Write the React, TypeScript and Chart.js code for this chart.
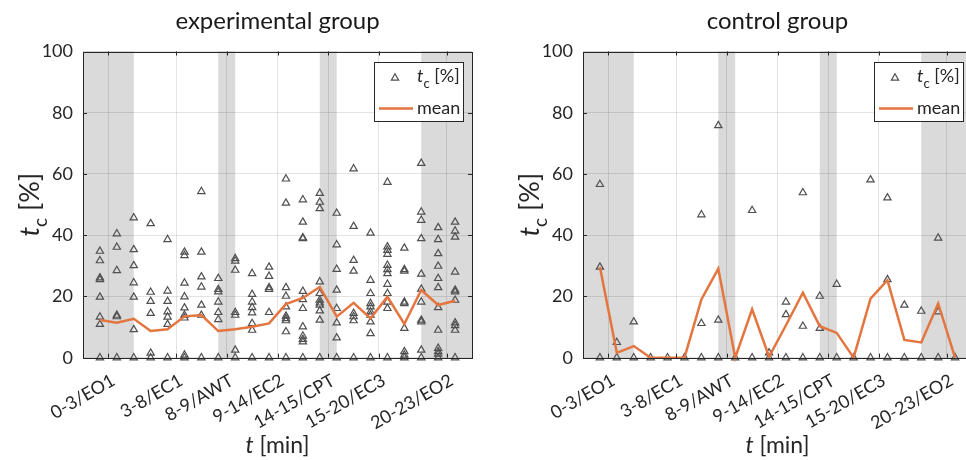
import React, { useEffect, useRef } from "react";
import { Chart, registerables } from "chart.js";

Chart.register(...registerables);

// ---------- data ----------
const minutes = [1, 2, 3, 4, 5, 6, 7, 8, 9, 10, 11, 12, 13, 14, 15, 16, 17, 18, 19, 20, 21, 22];
const phaseTicks = [1.5, 5.5, 8.5, 11.5, 14.5, 17.5, 21.5];
const phaseLabels = ["0-3/EO1", "3-8/EC1", "8-9/AWT", "9-14/EC2", "14-15/CPT", "15-20/EC3", "20-23/EO2"];
const shadedPhases = [
  [0, 3],
  [8, 9],
  [14, 15],
  [20, 23],
];
const yTicks = [0, 20, 40, 60, 80, 100];

const expValues = [
  [34.8, 31.7, 26.1, 25.5, 19.8, 13.3, 10.9, 0],
  [40.5, 36.1, 28.5, 13.9, 13.4, 0],
  [45.7, 35.3, 30.1, 24.5, 19.8, 9.2, 0],
  [43.8, 21.4, 18.4, 14.5, 1.5, 0],
  [38.6, 21.8, 18.4, 15.0, 13.3, 10.9, 0],
  [34.5, 33.4, 24.4, 19.9, 16.3, 13.9, 13.0, 0.9, 0],
  [54.3, 34.5, 26.4, 23.1, 17.2, 13.9, 0],
  [25.9, 22.3, 21.5, 18.2, 14.8, 12.5, 0],
  [32.4, 31.6, 28.6, 14.8, 13.9, 2.5, 0],
  [27.5, 20.7, 18.2, 16.4, 14.7, 11.2, 9.0, 0],
  [29.6, 26.6, 22.9, 22.3, 14.8, 0],
  [58.4, 50.5, 22.9, 20.1, 16.6, 13.6, 12.8, 12.1, 8.5, 0],
  [51.6, 44.3, 39.2, 38.9, 21.7, 19.0, 16.1, 10.1, 7.1, 6.0, 5.2, 0],
  [53.7, 50.8, 48.7, 24.8, 21.0, 18.8, 17.9, 17.2, 15.3, 12.3, 0],
  [47.2, 36.9, 28.9, 22.1, 16.1, 11.4, 6.5, 0],
  [61.7, 42.9, 31.8, 28.3, 14.5, 13.4, 12.1, 0],
  [40.7, 25.3, 21.0, 17.7, 16.6, 15.0, 13.9, 11.7, 7.9, 0],
  [57.3, 36.2, 35.1, 33.8, 30.2, 28.8, 27.5, 24.0, 21.0, 18.2, 16.1, 0],
  [35.8, 28.8, 28.3, 18.2, 17.7, 9.6, 2.0, 0.9, 0],
  [63.5, 47.6, 44.9, 38.9, 27.3, 22.4, 18.2, 12.3, 11.7, 2.5, 0],
  [42.5, 38.6, 34.0, 29.9, 25.9, 22.9, 16.4, 9.0, 3.1, 2.0, 1.2, 0],
  [44.3, 41.4, 39.4, 28.0, 22.1, 21.5, 18.8, 11.4, 10.5, 9.0, 0],
];
const expMean = [12.3, 11.4, 12.7, 8.7, 9.3, 13.5, 13.9, 8.7, 9.3, 10.1, 11.2, 17.5, 19.5, 23.1, 13.4, 17.9, 12.8, 19.9, 11.0, 22.1, 17.2, 18.6];

const ctrlValues = [
  [56.6, 29.6, 0],
  [5.0, 0],
  [11.7, 0],
  [0],
  [0],
  [0],
  [46.7, 11.2, 0],
  [75.8, 12.3, 0],
  [0],
  [48.1, 0],
  [1.6, 0],
  [18.2, 14.1, 0],
  [53.9, 10.3, 0],
  [20.1, 9.6, 0],
  [24.0, 0],
  [0],
  [58.1, 0],
  [52.2, 25.5, 0],
  [17.2, 0],
  [15.2, 0],
  [39.1, 15.0, 0],
  [0],
];
const ctrlMean = [29.6, 1.6, 3.8, 0, 0, 0, 19.0, 29.1, 0, 15.8, 0.3, 10.6, 21.2, 10.3, 8.1, 0, 19.3, 25.3, 5.8, 5.0, 17.7, 0];

// ---------- styles ----------
const FONT = 'Lato, "Noto Sans", sans-serif';
const TEXT = "#262626";
const ORANGE = "#E4753F";
const MARKER = "#505050";
const BAND = "#dadada";
const GRID = "rgba(38,38,38,0.13)";

type Part = { t: string; size: number; italic?: boolean; dy?: number };

function drawRich(ctx: CanvasRenderingContext2D, parts: Part[], x: number, y: number, align: "center" | "left") {
  const fnt = (p: Part) => `${p.italic ? "italic " : ""}${p.size}px ${FONT}`;
  ctx.textAlign = "left";
  ctx.textBaseline = "alphabetic";
  const widths = parts.map((p) => {
    ctx.font = fnt(p);
    return ctx.measureText(p.t).width;
  });
  const total = widths.reduce((a, b) => a + b, 0);
  let cx = align === "center" ? x - total / 2 : x;
  parts.forEach((p, i) => {
    ctx.font = fnt(p);
    ctx.fillText(p.t, cx, y + (p.dy || 0));
    cx += widths[i];
  });
}

function drawTriangle(ctx: CanvasRenderingContext2D, x: number, y: number, r: number) {
  ctx.beginPath();
  let rad = 0;
  ctx.moveTo(x + Math.sin(rad) * r, y - Math.cos(rad) * r);
  rad += (2 * Math.PI) / 3;
  ctx.lineTo(x + Math.sin(rad) * r, y - Math.cos(rad) * r);
  rad += (2 * Math.PI) / 3;
  ctx.lineTo(x + Math.sin(rad) * r, y - Math.cos(rad) * r);
  ctx.closePath();
  ctx.stroke();
}

function makeDecor(title: string) {
  return {
    id: "decor",
    beforeDraw(chart: any) {
      const { ctx, chartArea } = chart;
      const xs = chart.scales.x;
      ctx.save();
      ctx.fillStyle = "#ffffff";
      ctx.fillRect(0, 0, chart.width, chart.height);
      ctx.fillStyle = BAND;
      shadedPhases.forEach(([a, b]) => {
        const x1 = xs.getPixelForValue(a);
        const x2 = xs.getPixelForValue(b);
        ctx.fillRect(x1, chartArea.top, x2 - x1, chartArea.bottom - chartArea.top);
      });
      ctx.restore();
    },
    afterDraw(chart: any) {
      const { ctx, chartArea } = chart;
      const { left, right, top, bottom } = chartArea;
      const xs = chart.scales.x;
      const ys = chart.scales.y;
      ctx.save();
      // frame
      ctx.strokeStyle = TEXT;
      ctx.lineWidth = 1;
      ctx.strokeRect(Math.round(left) + 0.5, Math.round(top) + 0.5, Math.round(right - left), Math.round(bottom - top));
      // inward ticks
      ctx.beginPath();
      phaseTicks.forEach((v) => {
        const px = Math.round(xs.getPixelForValue(v)) + 0.5;
        ctx.moveTo(px, bottom);
        ctx.lineTo(px, bottom - 4);
        ctx.moveTo(px, top);
        ctx.lineTo(px, top + 4);
      });
      yTicks.forEach((v) => {
        const py = Math.round(ys.getPixelForValue(v)) + 0.5;
        ctx.moveTo(left, py);
        ctx.lineTo(left + 4, py);
        ctx.moveTo(right, py);
        ctx.lineTo(right - 4, py);
      });
      ctx.stroke();

      // legend
      const lx = Math.round(right - 98) + 0.5;
      const ly = Math.round(top + 10) + 0.5;
      ctx.fillStyle = "#ffffff";
      ctx.fillRect(lx, ly, 89, 59);
      ctx.strokeStyle = TEXT;
      ctx.strokeRect(lx, ly, 89, 59);
      ctx.strokeStyle = MARKER;
      ctx.lineWidth = 1.2;
      drawTriangle(ctx, right - 77, top + 26.5, 4.2);
      ctx.fillStyle = TEXT;
      drawRich(
        ctx,
        [
          { t: "t", size: 18, italic: true },
          { t: "c", size: 13, dy: 6 },
          { t: " [%]", size: 18 },
        ],
        right - 55,
        top + 30,
        "left"
      );
      ctx.strokeStyle = ORANGE;
      ctx.lineWidth = 2.5;
      ctx.beginPath();
      ctx.moveTo(right - 93, top + 57);
      ctx.lineTo(right - 59, top + 57);
      ctx.stroke();
      drawRich(ctx, [{ t: "mean", size: 18 }], right - 55, top + 62, "left");

      // title
      ctx.fillStyle = "#1a1a1a";
      drawRich(ctx, [{ t: title, size: 24 }], (left + right) / 2, 29, "center");
      // x axis title
      ctx.fillStyle = TEXT;
      drawRich(
        ctx,
        [
          { t: "t", size: 23, italic: true },
          { t: " [min]", size: 23 },
        ],
        (left + right) / 2,
        453,
        "center"
      );
      // y axis title
      ctx.save();
      ctx.translate(39, (top + bottom) / 2);
      ctx.rotate(-Math.PI / 2);
      drawRich(
        ctx,
        [
          { t: "t", size: 27, italic: true },
          { t: "c", size: 19, dy: 8 },
          { t: " [%]", size: 27 },
        ],
        0,
        0,
        "center"
      );
      ctx.restore();
      ctx.restore();
    },
  };
}

function Panel({ left, title, values, mean }: { left: number; title: string; values: number[][]; mean: number[] }) {
  const ref = useRef<HTMLCanvasElement | null>(null);
  useEffect(() => {
    if (!ref.current) return;
    const points: { x: number; y: number }[] = [];
    minutes.forEach((m, i) => values[i].forEach((v) => points.push({ x: m, y: v })));
    const meanPts = minutes.map((m, i) => ({ x: m, y: mean[i] }));
    const tickFont = { family: FONT, size: 18 };
    const chart = new Chart(ref.current, {
      type: "scatter",
      data: {
        datasets: [
          {
            type: "line",
            label: "mean",
            data: meanPts,
            borderColor: ORANGE,
            backgroundColor: ORANGE,
            borderWidth: 2.5,
            pointRadius: 0,
            fill: false,
            tension: 0,
            clip: false,
            order: 0,
          } as any,
          {
            type: "scatter",
            label: "tc [%]",
            data: points,
            pointStyle: "triangle",
            pointRadius: 4.2,
            borderColor: MARKER,
            backgroundColor: "rgba(0,0,0,0)",
            borderWidth: 1.2,
            clip: false,
            order: 1,
          } as any,
        ],
      },
      options: {
        responsive: false,
        animation: false,
        devicePixelRatio: 1,
        layout: { padding: { left: 0, right: 11, top: 51.5, bottom: 0 } },
        plugins: {
          legend: { display: false },
          title: { display: false },
          tooltip: { enabled: false },
        },
        scales: {
          x: {
            type: "linear",
            min: 0,
            max: 23,
            afterBuildTicks: (s: any) => {
              s.ticks = phaseTicks.map((v) => ({ value: v }));
            },
            afterFit: (s: any) => {
              s.height = 102.3;
            },
            grid: { color: GRID, drawTicks: false, lineWidth: 1 },
            border: { display: false },
            ticks: {
              autoSkip: false,
              minRotation: 30,
              maxRotation: 30,
              padding: 12,
              labelOffset: 5,
              color: TEXT,
              font: tickFont,
              callback: (v: any) => {
                const i = phaseTicks.indexOf(Number(v));
                return i >= 0 ? phaseLabels[i] : "";
              },
            },
          },
          y: {
            type: "linear",
            min: 0,
            max: 100,
            afterBuildTicks: (s: any) => {
              s.ticks = yTicks.map((v) => ({ value: v }));
            },
            afterFit: (s: any) => {
              s.width = 83;
            },
            grid: { color: GRID, drawTicks: false, lineWidth: 1 },
            border: { display: false },
            ticks: { padding: 10, color: TEXT, font: tickFont },
          },
        },
      } as any,
      plugins: [makeDecor(title)],
    });
    return () => chart.destroy();
  }, []);
  return (
    <canvas
      ref={ref}
      width={483}
      height={460}
      style={{ position: "absolute", left, top: 0, width: 483, height: 460 }}
    />
  );
}

export default function App() {
  return (
    <div style={{ position: "absolute", left: 0, top: 0, width: 966, height: 460, overflow: "hidden", background: "#fff" }}>
      <Panel left={0} title="experimental group" values={expValues} mean={expMean} />
      <Panel left={500} title="control group" values={ctrlValues} mean={ctrlMean} />
    </div>
  );
}
